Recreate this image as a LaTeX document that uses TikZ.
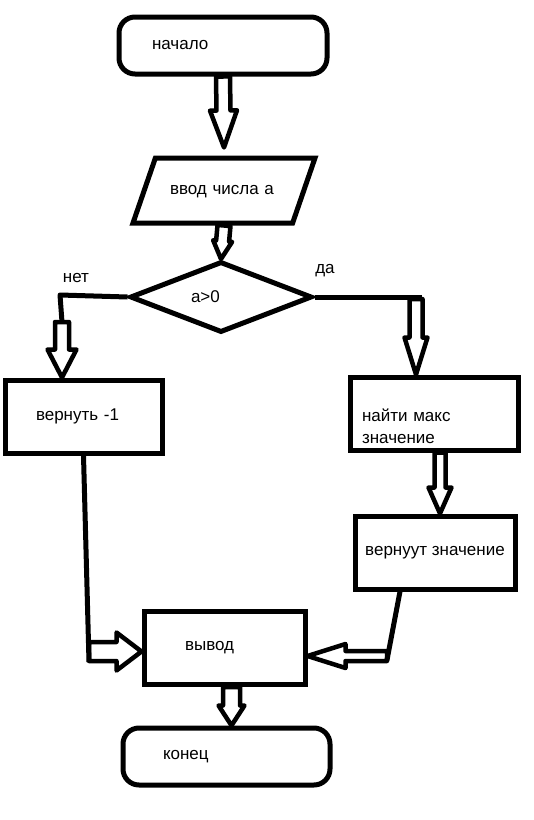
\documentclass[tikz,border=0pt]{standalone}
\usepackage{fontspec}
\setmainfont{Liberation Sans}
\usetikzlibrary{shapes,calc}
\tikzstyle{box}=[draw,rectangle,line width=5pt,inner sep=0pt,minimum height=73pt,font=\fontsize{17}{22}\selectfont]
\tikzstyle{term}=[box,rounded corners=16pt,minimum height=57pt]
\tikzstyle{io}=[box,trapezium,trapezium left angle=71,trapezium right angle=109,trapezium stretches body,minimum height=65pt,text height=12pt,text depth=4pt,inner ysep=24.5pt]
\tikzstyle{decision}=[box,diamond,aspect=2.56,minimum height=71pt]
\tikzstyle{tag}=[inner sep=0pt,font=\fontsize{17}{22}\selectfont]
\tikzstyle{link}=[draw,line width=5pt,line join=round]
\tikzstyle{fat}=[draw,line width=4.5pt,line join=round]
% hollow arrow: from, to, half shaft, half head, head length
\newcommand{\blockarrow}[5]{%
  \path let \p1=(#1), \p2=(#2), \n1={veclen(\x2-\x1,\y2-\y1)}, \n2={atan2(\y2-\y1,\x2-\x1)} in
    \pgfextra{\xdef\arlen{\n1}\xdef\arang{\n2}\xdef\arx{\x1}\xdef\ary{\y1}};
  \path[fat,shift={(\arx,\ary)},rotate=\arang]
    (0,-#3) -- (\arlen-#5,-#3) -- (\arlen-#5,-#4) -- (\arlen,0)
    -- (\arlen-#5,#4) -- (\arlen-#5,#3) -- (0,#3) -- cycle;
}

\begin{document}
\begin{tikzpicture}[x=1pt,y=-1pt]
    \useasboundingbox (0,0) rectangle (534,820);
    % First we draw the blocks
    \node[term,minimum width=208pt,text width=142pt,inner xsep=33pt,align=left] (start) at (223,45.5) {начало};
    \node[io,minimum width=182pt,text width=108pt,align=left] (input) at (224,190.5) {ввод числа а};
    \node[decision,minimum width=182pt,text width=60pt,align=left] (cond) at (221,297) {а>0};
    \node[box,minimum width=157pt,text width=95pt,inner xsep=31pt,align=left] (ret1) at (83.5,416.5) {вернуть -1};
    \node[box,minimum width=168pt,text width=144pt,inner xsep=12pt,align=left,text height=38pt] (findmax) at (434,413.5) {найти макс\\значение};
    \node[box,minimum width=160pt] (retval) at (435,552.5) {вернуут значение};
    \node[box,minimum width=161pt,text width=79pt,inner xsep=41pt,align=left] (out) at (224.5,648) {вывод};
    \node[term,minimum width=207pt,text width=127pt,inner xsep=40pt,align=left] (stop) at (226.5,756.5) {конец};
    \node[tag] (no) at (76,278) {нет};
    \node[tag] (yes) at (325,271) {да};
    % Points where the lines bend
    \coordinate (nocorner) at (60,295);
    \coordinate (notop) at (62,322);
    \coordinate (yescorner) at (422,297);
    \coordinate (yestop) at (416,299);
    \coordinate (leftbend) at (89,662);
    \coordinate (leftarrow) at (89,651.5);
    \coordinate (rightbend) at (387,660);
    \coordinate (rightarrow) at (387,656);
    \coordinate (intop) at ($(input.north)+(0,-8)$);
    \coordinate (ret1top) at (notop |- ret1.north);
    \coordinate (findtop) at (yestop |- findmax.north);
    \coordinate (findbot) at ($(findmax.south)+(6,0)$);
    \coordinate (valtop) at ($(retval.north)+(5,0)$);
    \coordinate (valbot) at ($(retval.south)+(-35,0)$);
    \coordinate (outleft) at (leftarrow -| out.west);
    \coordinate (outright) at (rightarrow -| out.east);
    \coordinate (outbot) at ($(out.south)+(7,0)$);
    \coordinate (stoptop) at ($(stop.north)+(5,0)$);
    % Connect blocks with lines
    \path[link] (cond.west) -- (nocorner) -- (notop);
    \path[link] (cond.east) -- (yescorner);
    \path[link] (ret1.south) -- (leftbend);
    \path[link] (valbot) -- (rightbend);
    % Then the hollow arrows
    \foreach \from/\to/\s/\h/\l in {start.south/intop/7/13.5/37, input.south/cond.north/6.5/9.5/18,
        notop/ret1top/7/14.5/28, yestop/findtop/6.5/11.5/37, findbot/valtop/5.5/11.5/26,
        leftarrow/outleft/9.5/19/25, rightarrow/outright/5/12/38, outbot/stoptop/8.5/13/20}
        \blockarrow{\from}{\to}{\s}{\h}{\l};
\end{tikzpicture}
\end{document}
